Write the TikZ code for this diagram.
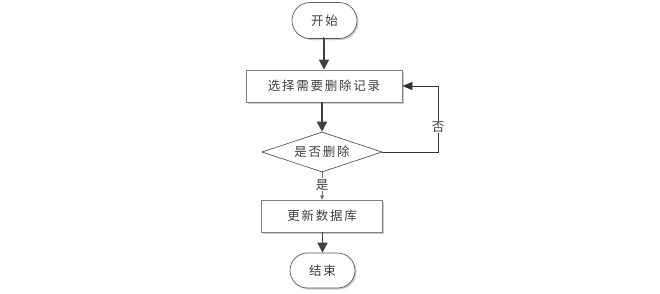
\documentclass[tikz,border=0pt]{standalone}
\usepackage{fontspec}
\setmainfont{Noto Sans CJK SC}[LetterSpace=14]
\usetikzlibrary{arrows.meta,shapes.geometric,shapes.misc,shadows}
\begin{document}
\begin{tikzpicture}[x=1pt,y=-1pt,
  font=\fontsize{12.5pt}{14pt}\selectfont\color{black!75},
  boxshadow/.style={drop shadow={shadow xshift=1.5pt,shadow yshift=-1.5pt,fill=black!25,opacity=0.8}},
  termbox/.style={draw=black!65,line width=0.7pt,fill=white,rounded rectangle,minimum width=65pt,minimum height=36pt,inner sep=0pt,boxshadow},
  procbox/.style={draw=black!50,line width=0.9pt,fill=white,rectangle,minimum height=32pt,inner sep=0pt,boxshadow},
  decbox/.style={draw=black!75,line width=0.6pt,fill=white,diamond,aspect=3,inner sep=0pt,minimum width=120pt,minimum height=40pt},
  thickarrow/.style={draw=black!75,line width=1.8pt,-{Triangle[length=10pt,width=10pt]}},
  thinarrow/.style={draw=black!80,line width=0.7pt,-{Triangle[length=10pt,width=8pt]}},
  smallarrow/.style={draw=black!60,line width=0.6pt,-{Triangle[length=4pt,width=4pt]}},
  lbl/.style={fill=white,inner sep=1pt}
]
\useasboundingbox (0,0) rectangle (660,293);
\node[termbox] (start) at (324.5,20.5) {开始};
\node[procbox,minimum width=156pt] (select) at (324,86) {选择需要删除记录};
\node[decbox] (dec) at (322,152) {是否删除};
\node[procbox,minimum width=121pt] (update) at (322,216) {更新数据库};
\node[termbox,minimum height=35pt] (stop) at (322.5,270.5) {结束};
\coordinate (c1) at (438,152);
\coordinate (c2) at (438,86);
\draw[thickarrow] (start) -- (select.south |- start.south) -- (select);
\draw[thickarrow] (select.south -| dec.north) -- (dec.north);
\draw[thickarrow] (update.south -| stop.north) -- (stop.north);
\draw[smallarrow] (dec.south) -- node[lbl,pos=0.45] (yes) {是} (update.north -| dec.south);
\draw[thinarrow] (dec.east) -- (c1) -- node[lbl,pos=0.38] (no) {否} (c2) -- (select.east);
\end{tikzpicture}
\end{document}
